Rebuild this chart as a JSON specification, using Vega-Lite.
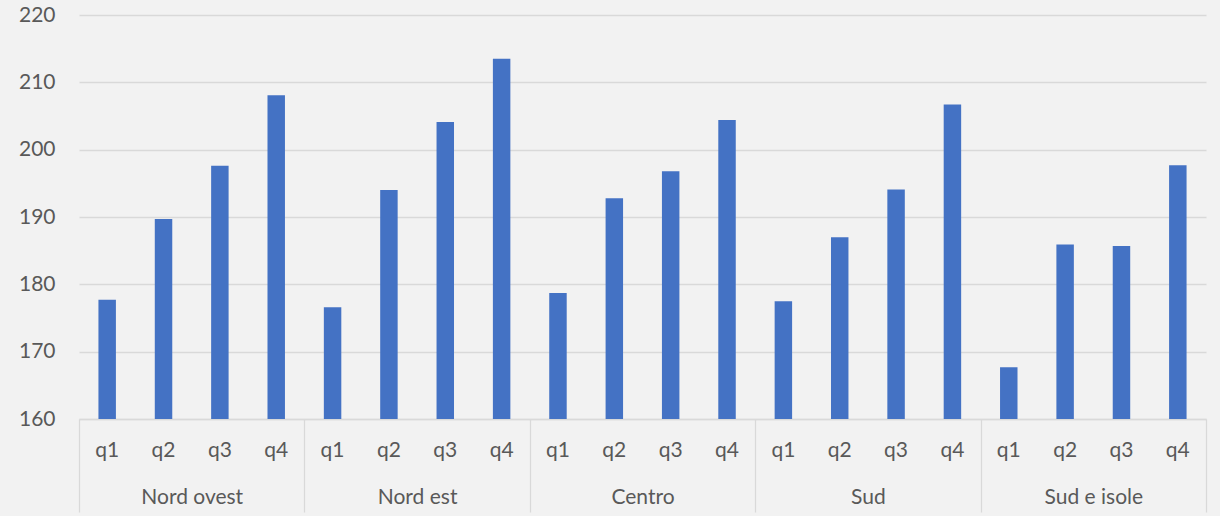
{
  "$schema": "https://vega.github.io/schema/vega-lite/v6.json",
  "width": 1127,
  "height": 404,
  "autosize": "none",
  "padding": {"left": 79, "top": 15, "right": 14, "bottom": 97},
  "background": "#F2F2F2",
  "config": {
    "view": {"stroke": null},
    "font": "Lato",
    "axis": {"labelFont": "Lato", "labelFontSize": 21, "labelColor": "#595959"}
  },
  "data": {
    "values": [
      {"region": "Nord ovest", "q": "q1", "value": 177.7},
      {"region": "Nord ovest", "q": "q2", "value": 189.7},
      {"region": "Nord ovest", "q": "q3", "value": 197.6},
      {"region": "Nord ovest", "q": "q4", "value": 208.1},
      {"region": "Nord est", "q": "q1", "value": 176.6},
      {"region": "Nord est", "q": "q2", "value": 194.0},
      {"region": "Nord est", "q": "q3", "value": 204.1},
      {"region": "Nord est", "q": "q4", "value": 213.5},
      {"region": "Centro", "q": "q1", "value": 178.7},
      {"region": "Centro", "q": "q2", "value": 192.8},
      {"region": "Centro", "q": "q3", "value": 196.8},
      {"region": "Centro", "q": "q4", "value": 204.4},
      {"region": "Sud", "q": "q1", "value": 177.5},
      {"region": "Sud", "q": "q2", "value": 187.0},
      {"region": "Sud", "q": "q3", "value": 194.1},
      {"region": "Sud", "q": "q4", "value": 206.7},
      {"region": "Sud e isole", "q": "q1", "value": 167.7},
      {"region": "Sud e isole", "q": "q2", "value": 185.9},
      {"region": "Sud e isole", "q": "q3", "value": 185.7},
      {"region": "Sud e isole", "q": "q4", "value": 197.7}
    ]
  },
  "encoding": {
    "x": {
      "field": "region",
      "type": "nominal",
      "sort": null,
      "scale": {"paddingInner": 0, "paddingOuter": 0},
      "axis": {
        "title": null,
        "domain": true,
        "domainColor": "#D9D9D9",
        "domainWidth": 1.3,
        "ticks": true,
        "tickBand": "extent",
        "tickSize": 93,
        "tickColor": "#D9D9D9",
        "tickWidth": 1.3,
        "labelAngle": 0,
        "labelBaseline": "middle",
        "labelPadding": -15
      }
    },
    "xOffset": {
      "field": "q",
      "type": "nominal",
      "sort": null,
      "scale": {"paddingInner": 0.69, "paddingOuter": 0.345}
    }
  },
  "layer": [
    {
      "mark": {"type": "bar", "color": "#4472C4"},
      "encoding": {
        "y": {
          "field": "value",
          "type": "quantitative",
          "scale": {"domain": [160, 220], "zero": false, "nice": false},
          "axis": {
            "title": null,
            "values": [160, 170, 180, 190, 200, 210, 220],
            "grid": true,
            "gridColor": "#D9D9D9",
            "gridWidth": 1.3,
            "domain": false,
            "ticks": false,
            "labelPadding": 24
          }
        },
        "y2": {"datum": 160}
      }
    },
    {
      "mark": {"type": "text", "font": "Lato", "fontSize": 21, "color": "#595959", "baseline": "middle", "dy": 32},
      "encoding": {
        "y": {"datum": 160, "type": "quantitative"},
        "text": {"field": "q"}
      }
    }
  ]
}
